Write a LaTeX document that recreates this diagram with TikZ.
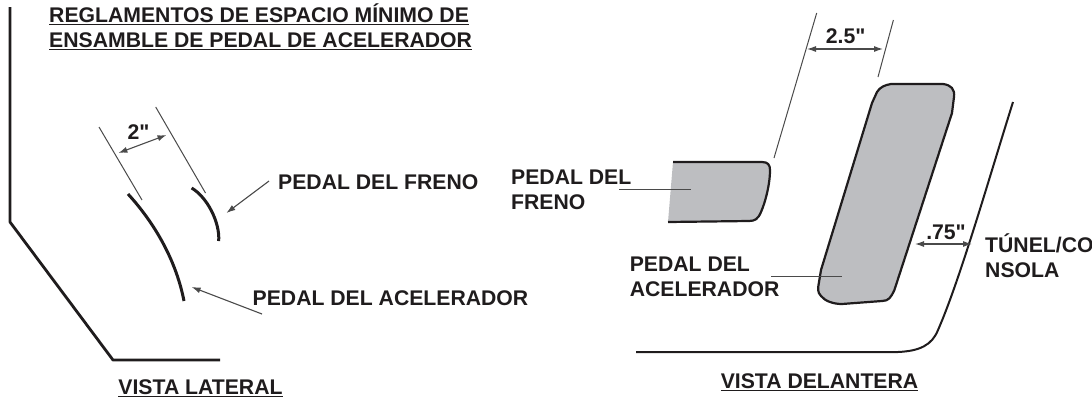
\documentclass[tikz,border=0pt]{standalone}
\usepackage{fontspec}
\newfontfamily\plainsans{Liberation Sans}
\usetikzlibrary{arrows.meta}
\definecolor{ink}{HTML}{1F1C1D}
\definecolor{fillg}{HTML}{BDBEC1}
\definecolor{thin}{HTML}{4A4A4A}
\tikzset{
 x=1pt,y=-1pt,
 lab/.style={anchor=west,inner sep=0pt,text=ink,font=\plainsans\fontsize{21.2}{25}\selectfont\bfseries,align=left},
 cen/.style={inner sep=0pt,text=ink,font=\plainsans\fontsize{21.2}{25}\selectfont\bfseries},
 heavy/.style={draw=ink,line width=2.8pt,line join=round},
 pedalside/.style={draw=ink,line width=3pt,line cap=butt},
 thinl/.style={draw=thin,line width=1pt},
 dimline/.style={draw=thin,line width=1.1pt,{Latex[length=9pt,width=6pt]}-{Latex[length=9pt,width=6pt]}},
 pointer/.style={draw=thin,line width=1.1pt,-{Latex[length=9pt,width=6pt]}},
 outline/.style={draw=ink,line width=2.2pt,line join=round},
}
\begin{document}
\begin{tikzpicture}
\useasboundingbox (0,0) rectangle (1092,400);
% titles
\node[lab] (title) at (49,27) {\underline{REGLAMENTOS DE ESPACIO MÍNIMO DE}\\\underline{ENSAMBLE DE PEDAL DE ACELERADOR}};
% side view
\draw[heavy] (10,7) -- (10,222) -- (113,360) -- (220,360);
\draw[pedalside] (128,194) .. controls (150,218) and (175,255) .. (184,301);
\draw[pedalside] (191.6,188) .. controls (207,197) and (220,222) .. (218.7,241);
\draw[thinl] (99,127) -- (142,200);
\draw[thinl] (155.7,107) -- (205.5,193);
\coordinate (dimA) at (118.4,153);
\coordinate (dimB) at (166.5,135);
\draw[dimline] (dimA) -- (dimB);
\node[cen] (two) at (138.6,132) {2"};
\node[lab] (lfreno) at (278,182) {PEDAL DEL FRENO};
\node[lab] (lacel) at (252.5,298) {PEDAL DEL ACELERADOR};
\coordinate (fp) at (226.4,213);
\coordinate (ap) at (191.6,287);
\draw[pointer] (lfreno.west) ++(-9,-1) -- (fp);
\draw[pointer] (262,314) -- (ap);
\node[cen] (vl) at (200.5,388) {\underline{VISTA LATERAL}};
% front view
\draw[thinl] (816.7,13) -- (774,158);
\draw[thinl] (893.4,20) -- (878,77);
\coordinate (dA) at (807,49);
\coordinate (dB) at (883,49);
\draw[dimline] (dA) -- (dB);
\node[cen] (tf) at (845.6,36) {2.5"};
% brake pedal
\fill[fillg] (673,162) -- (762,162) .. controls (768,162) and (770,165) .. (770,170) .. controls (770,185) and (765,203) .. (761,212) .. controls (758,219) and (755,221) .. (749,221) -- (668,222) -- cycle;
\draw[outline] (673,162) -- (762,162) .. controls (768,162) and (770,165) .. (770,170) .. controls (770,185) and (765,203) .. (761,212) .. controls (758,219) and (755,221) .. (749,221) -- (668,222);
% accelerator pedal
\draw[outline,fill=fillg] (877,92) .. controls (880,87) and (885,85) .. (891,84) -- (943,84) .. controls (951,85) and (955,89) .. (954,97) -- (952,113) -- (894.4,290) .. controls (891,297) and (889,301) .. (882,301) -- (842,304) .. controls (833,304) and (825,301) .. (821,296) .. controls (817,292) and (818,288) .. (819,282) -- (821,270) -- (872,103) -- cycle;
% console
\draw[draw=ink,line width=2pt] (636,352) -- (898,352) .. controls (920,351) and (932,345) .. (938,330) .. controls (960,280) and (990,175) .. (1013,102);
\coordinate (cA) at (915,244);
\coordinate (cB) at (972,244);
\draw[dimline] (cA) -- (cB);
\node[cen] (tt) at (946,232) {.75"};
\node[lab] (lf2) at (511,190) {PEDAL DEL\\FRENO};
\coordinate (f1) at (619,189);
\coordinate (f2) at (690.6,189);
\draw[thinl] (f1) -- (f2);
\node[lab] (la2) at (629.6,276.5) {PEDAL DEL\\ACELERADOR};
\coordinate (a1) at (771,276);
\coordinate (a2) at (841.5,276);
\draw[thinl] (a1) -- (a2);
\node[lab] (lt) at (985,256) {TÚNEL/CO\\NSOLA};
\node[cen] (vd) at (819.5,382) {\underline{VISTA DELANTERA}};
\end{tikzpicture}
\end{document}
